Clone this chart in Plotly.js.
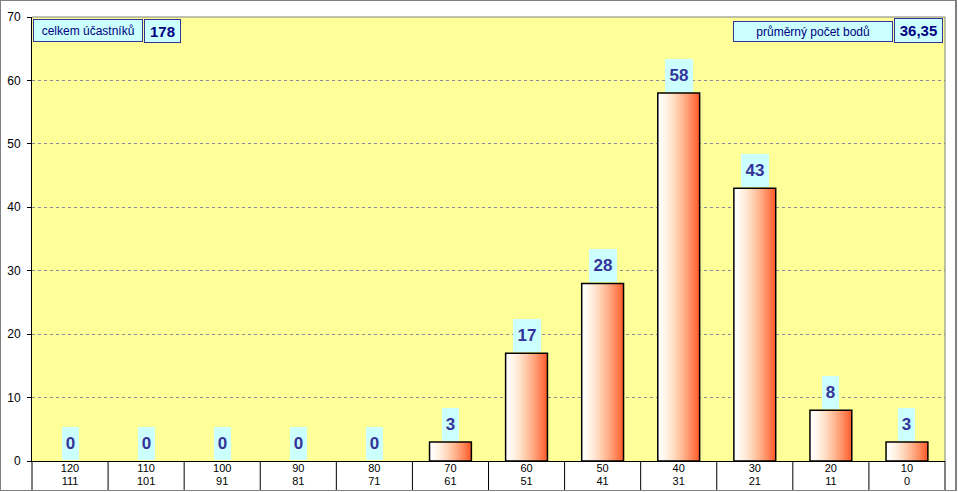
<!DOCTYPE html>
<html>
<head>
<meta charset="utf-8">
<script src="https://cdn.plot.ly/plotly-3.0.1.min.js"></script>
<style>
  body { margin: 0; background: #fff; }
  #wrap { position: relative; width: 958px; height: 492px; }
  #chart { width: 958px; height: 492px; }
  #frame { position: absolute; left: 0; top: 0; width: 954px; height: 489px;
           border: 1px solid #808080; border-right-width: 2px; pointer-events: none; }
</style>
</head>
<body>
<div id="wrap"><div id="chart"></div><div id="frame"></div></div>
<script>
// ---- data ----
const categoriesTop = ['120', '110', '100', '90', '80', '70', '60', '50', '40', '30', '20', '10'];
const categoriesBottom = ['111', '101', '91', '81', '71', '61', '51', '41', '31', '21', '11', '0'];
const counts = [0, 0, 0, 0, 0, 3, 17, 28, 58, 43, 8, 3];
const totalLabel = 'celkem účastníků';
const totalValue = '178';
const averageLabel = 'průměrný počet bodů';
const averageValue = '36,35';

// ---- style ----
const BAR_W = 0.55;
const STEPS = 32;
function gradColor(t) {
  const e = Math.pow(t, 1.6);
  const r = 255;
  const g = Math.round(255 - (255 - 88) * e);
  const b = Math.round(255 - (255 - 40) * Math.pow(t, 1.3));
  return 'rgb(' + r + ',' + g + ',' + b + ')';
}

const ncat = categoriesTop.length;
const idx = categoriesTop.map((_, i) => i);

const traces = [];
for (let k = 0; k < STEPS; k++) {
  const w = BAR_W * (1 - k / STEPS);
  traces.push({
    type: 'bar', x: categoriesTop, y: counts,
    width: w, offset: BAR_W / 2 - w,
    marker: { color: gradColor((k + 0.5) / STEPS), line: { width: 0 } },
    hoverinfo: 'skip', showlegend: false
  });
}
traces.push({
  type: 'bar', x: categoriesTop, y: counts,
  width: BAR_W, offset: -BAR_W / 2,
  marker: { color: 'rgba(0,0,0,0)', line: { color: '#000', width: counts.map(v => v > 0 ? 1.5 : 0) } },
  hoverinfo: 'skip', showlegend: false
});
// invisible trace so the second (lower-label) axis is drawn
traces.push({
  type: 'scatter', mode: 'markers', x: idx, y: counts, xaxis: 'x2', yaxis: 'y',
  marker: { opacity: 0, size: 1 }, hoverinfo: 'skip', showlegend: false
});

const plotH = 444;
const shapes = [];
for (let i = 0; i <= ncat; i++) {
  shapes.push({ type: 'line', xref: 'paper', yref: 'paper',
    x0: i / ncat, x1: i / ncat, y0: 0, y1: -29 / plotH,
    line: { color: '#000', width: 1 } });
}
shapes.push({ type: 'line', xref: 'paper', yref: 'paper', x0: 0, x1: 1, y0: 1, y1: 1,
  line: { color: '#808080', width: 1 } });
shapes.push({ type: 'line', xref: 'paper', yref: 'paper', x0: 1, x1: 1, y0: 0, y1: 1,
  line: { color: '#808080', width: 1 } });

const annotations = counts.map((v, i) => ({
  x: i, y: v, xref: 'x', yref: 'y',
  text: String(v), showarrow: false, yanchor: 'bottom', yshift: 1,
  bgcolor: '#CCFFFF', borderwidth: 0, borderpad: 0,
  width: String(v).length > 1 ? 28 : 17, height: 33,
  font: { family: 'Arial, Liberation Sans, sans-serif', size: 17, color: '#333399', weight: 'bold' }
}));

const boxFont = { family: 'Arial, Liberation Sans, sans-serif', size: 12, color: '#000080' };
const valFont = { family: 'Arial, Liberation Sans, sans-serif', size: 15, color: '#000080', weight: 'bold' };
function box(text, left, top, w, h, font) {
  return { xref: 'paper', yref: 'paper', x: left, y: top, xanchor: 'left', yanchor: 'top',
    text: text, showarrow: false, bgcolor: '#CCFFFF', bordercolor: '#333399',
    borderwidth: 1, borderpad: 0, width: w, height: h, font: font };
}
const px = (p) => (p - 32) / 913;
const py = (p) => (461 - p) / 444;
annotations.push(box(totalLabel, px(33), py(19), 108, 21, boxFont));
annotations.push(box(totalValue, px(144), py(19), 35, 22, valFont));
annotations.push(box(averageLabel, px(733), py(21), 158, 19, boxFont));
annotations.push(box(averageValue, px(894), py(18), 47, 23, valFont));

const tickFont = { family: 'Arial, Liberation Sans, sans-serif', size: 11, color: '#000' };
const layout = {
  width: 958, height: 492,
  margin: { l: 32, r: 13, t: 17, b: 31, pad: 0 },
  paper_bgcolor: '#fff', plot_bgcolor: '#FFFF99',
  barmode: 'overlay', showlegend: false,
  xaxis: { type: 'category', categoryarray: categoriesTop, range: [-0.5, ncat - 0.5],
    showline: true, linecolor: '#000', linewidth: 1, ticks: '', showgrid: false,
    zeroline: false, tickfont: tickFont, fixedrange: true, ticklabelstandoff: -3 },
  xaxis2: { overlaying: 'x', anchor: 'y', side: 'bottom', type: 'linear',
    range: [-0.5, ncat - 0.5], tickmode: 'array',
    tickvals: idx, ticktext: categoriesBottom,
    ticks: '', showgrid: false, showline: false, zeroline: false,
    ticklabelstandoff: 12, tickfont: tickFont, fixedrange: true },
  yaxis: { range: [0, 70], dtick: 10, tick0: 0, showline: true, linecolor: '#000', linewidth: 1,
    ticks: 'outside', ticklen: 4, tickcolor: '#000', tickwidth: 1,
    gridcolor: '#8c8ca0', griddash: '3px,3px', gridwidth: 1, zeroline: false,
    tickfont: { family: 'Arial, Liberation Sans, sans-serif', size: 12, color: '#000' },
    ticklabelstandoff: 4, fixedrange: true },
  shapes: shapes,
  annotations: annotations
};

Plotly.newPlot('chart', traces, layout, { displayModeBar: false, staticPlot: true });
</script>
</body>
</html>
